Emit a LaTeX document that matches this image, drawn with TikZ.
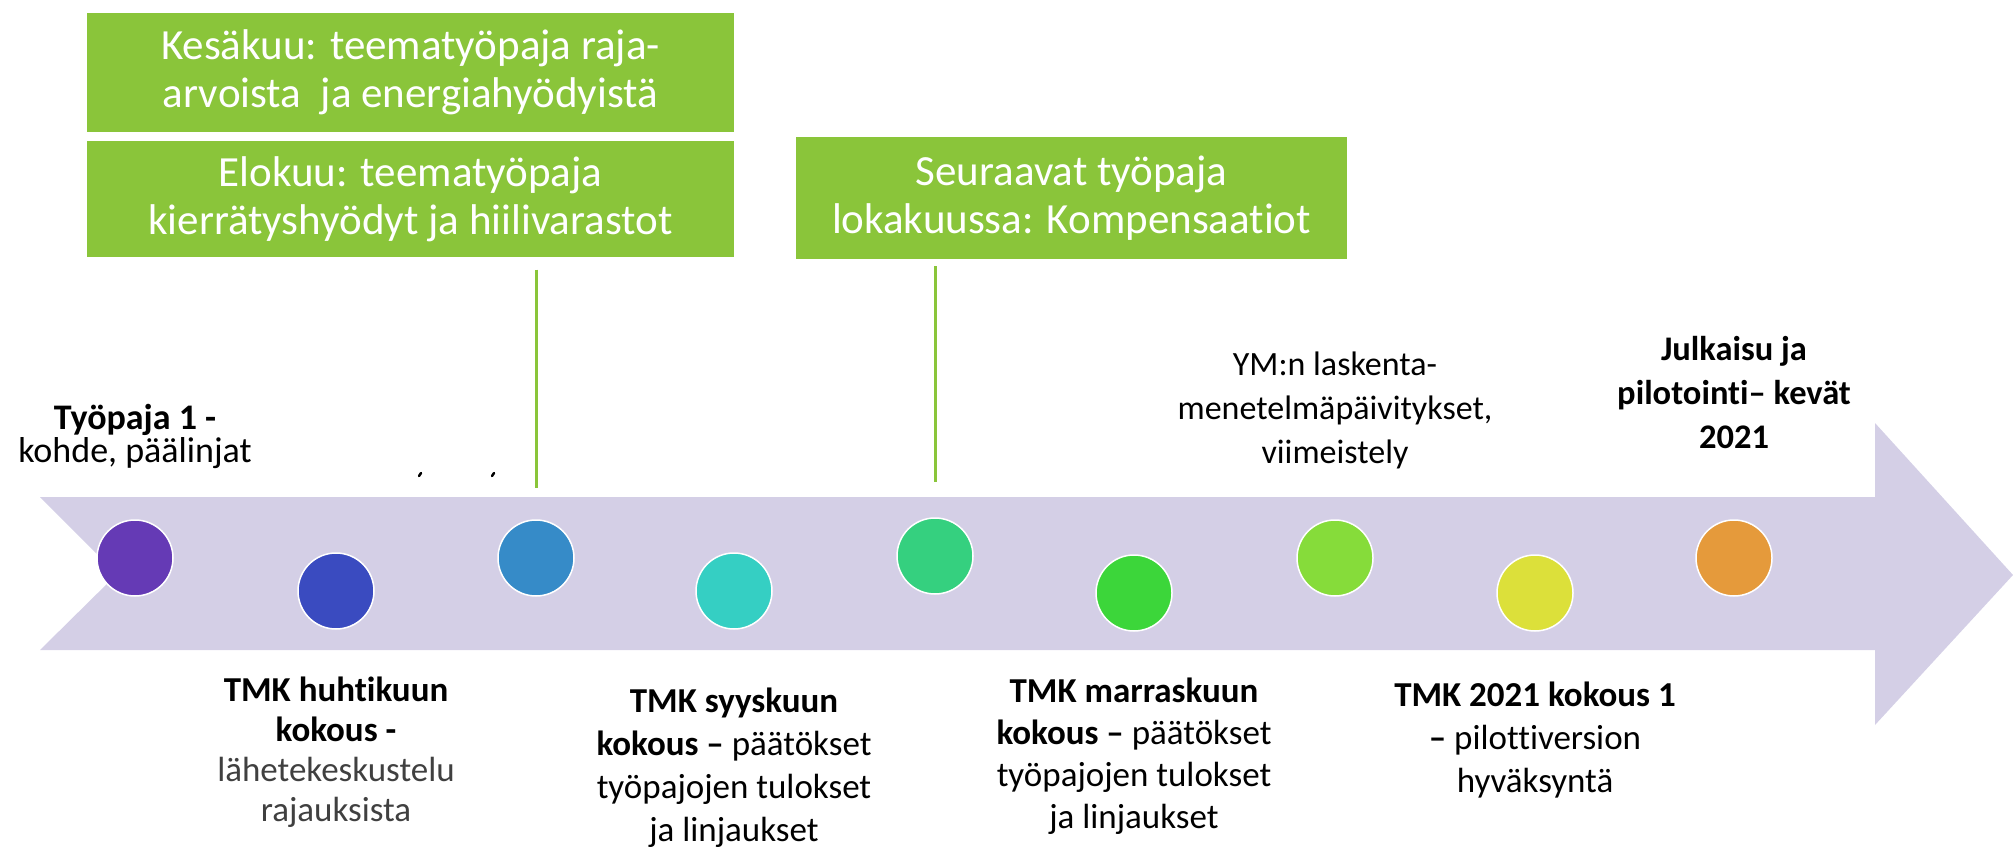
\documentclass[tikz,border=0pt]{standalone}
\usepackage{fontspec}
\setmainfont{Carlito}[Ligatures=NoCommon]
\usepackage{xcolor}
\usetikzlibrary{positioning}

\definecolor{bandlilac}{HTML}{D4CFE6}
\definecolor{boxgreen}{HTML}{8AC53A}
\definecolor{dotpurple}{HTML}{653AB5}
\definecolor{dotblue}{HTML}{3A4BC0}
\definecolor{dotsteel}{HTML}{368BC8}
\definecolor{dotteal}{HTML}{35CFC3}
\definecolor{dotmint}{HTML}{35D07F}
\definecolor{dotgreen}{HTML}{3CD63A}
\definecolor{dotlime}{HTML}{86DC3A}
\definecolor{dotyellow}{HTML}{DCE03A}
\definecolor{dotorange}{HTML}{E59A3B}
\definecolor{softgray}{HTML}{404040}

\begin{document}
\begin{tikzpicture}[
    x=1pt, y=-1pt,
    dot/.style={circle, draw=white, line width=1.5pt, minimum size=76pt, inner sep=0pt},
    theme/.style={rectangle, fill=boxgreen, text=white, align=center, inner sep=0pt, font=\fontsize{43}{48}\selectfont},
    milestone/.style={align=center, inner sep=0pt, font=\fontsize{35}{42}\selectfont},
    stem/.style={draw=boxgreen, line width=3pt}
]
\useasboundingbox (0,0) rectangle (2013,850);

% Timeline band
\fill[bandlilac] (40,497) -- (1875,497) -- (1875,423) -- (2013,575) -- (1875,725)
    -- (1875,650) -- (40,650) -- (117,574) -- cycle;

% Milestone dots
\node[dot, fill=dotpurple] (c1) at (135,558) {};
\node[dot, fill=dotblue] (c2) at (336,591) {};
\node[dot, fill=dotsteel] (c3) at (536,558) {};
\node[dot, fill=dotteal] (c4) at (734,591) {};
\node[dot, fill=dotmint] (c5) at (935,556) {};
\node[dot, fill=dotgreen] (c6) at (1134,593) {};
\node[dot, fill=dotlime] (c7) at (1335,558) {};
\node[dot, fill=dotyellow] (c8) at (1535,593) {};
\node[dot, fill=dotorange] (c9) at (1734,558) {};

% Theme workshops
\node[theme, minimum width=647pt, minimum height=119pt] (kesa) at (410.5,72.5)
    {Kesäkuu: teematyöpaja raja-\\arvoista\ \ ja energiahyödyistä};
\node[theme, minimum width=647pt, minimum height=116pt, below=9pt of kesa] (elo)
    {Elokuu: teematyöpaja\\kierrätyshyödyt ja hiilivarastot};
\node[theme, minimum width=551pt, minimum height=122pt] (loka) at (1071.5,198)
    {Seuraavat työpaja\\lokakuussa: Kompensaatiot};

\draw[stem] ([yshift=-12pt]elo.south -| c3) -- ([yshift=31pt]c3.north);
\draw[stem] ([yshift=-7pt]loka.south -| c5) -- ([yshift=35pt]c5.north);

% Labels above the band
\node[milestone, font=\fontsize{36}{33}\selectfont] (t1) at (135,436)
    {\textbf{Työpaja 1 -}\\kohde, päälinjat};
\node[milestone, font=\fontsize{34}{44}\selectfont] (t7) at (1335,410)
    {YM:n laskenta-\\menetelmäpäivitykset,\\viimeistely};
\node[milestone, font=\bfseries\fontsize{34.5}{44}\selectfont] (t9) at (1734,393)
    {Julkaisu ja\\pilotointi– kevät\\2021};

% Labels below the band
\node[milestone, font=\fontsize{35}{40}\selectfont] (t2) at (336,752)
    {\textbf{TMK huhtikuun}\\\textbf{kokous -}\\\textcolor{softgray}{lähetekeskustelu}\\\textcolor{softgray}{rajauksista}};
\node[milestone, font=\fontsize{35}{43}\selectfont] (t4) at (734,768)
    {\textbf{TMK syyskuun}\\\textbf{kokous –} päätökset\\työpajojen tulokset\\ja linjaukset};
\node[milestone, font=\fontsize{35}{42}\selectfont] (t6) at (1134,756)
    {\textbf{TMK marraskuun}\\\textbf{kokous –} päätökset\\työpajojen tulokset\\ja linjaukset};
\node[milestone, font=\fontsize{35}{43}\selectfont] (t8) at (1535,740)
    {\textbf{TMK 2021 kokous 1}\\\textbf{–} pilottiversion\\hyväksyntä};

% Leftover marks
\draw[line width=2.5pt, line cap=round] (419,476) -- (421,473);
\draw[line width=2.5pt, line cap=round] (492,476) -- (494,473);

\end{tikzpicture}
\end{document}
